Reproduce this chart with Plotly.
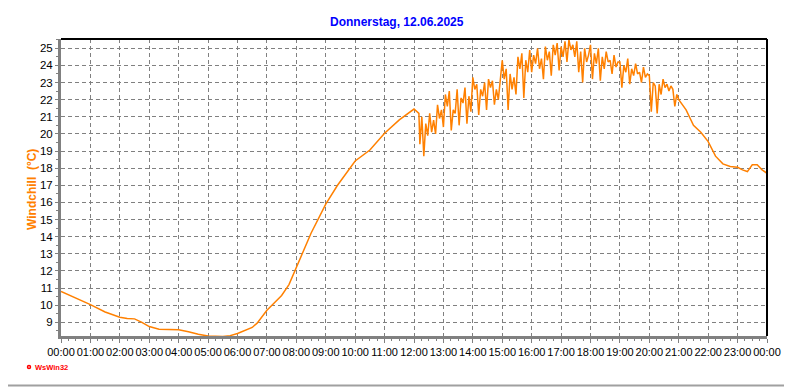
import pandas as pd
import plotly.graph_objects as go

# ---------------- data ----------------
day = "2025-06-12"
title_text = "Donnerstag, 12.06.2025"
y_title = "Windchill  (°C)"

# smooth part, night/morning
am_times = ["00:00", "00:30", "01:00", "01:30", "02:00", "02:15", "02:30", "02:45",
            "03:00", "03:20", "03:40", "04:00", "04:20", "04:40", "05:00", "05:30",
            "05:45", "06:00", "06:30", "06:40", "07:00", "07:30", "07:45", "08:00",
            "08:30", "09:00", "09:24", "10:00", "10:30", "11:00", "11:30", "12:00",
            "12:05", "12:10"]
am_vals = [10.8, 10.42, 10.03, 9.6, 9.3, 9.22, 9.2, 9.0,
           8.75, 8.6, 8.58, 8.57, 8.45, 8.3, 8.2, 8.17,
           8.22, 8.35, 8.7, 8.95, 9.7, 10.57, 11.2, 12.2,
           14.2, 15.9, 17.0, 18.42, 19.06, 20.04, 20.82, 21.45,
           21.3, 21.2]

# noisy afternoon part, 4-minute samples starting 12:12
noisy_start = "12:12"
noisy_vals = [
    # 12:12 - 12:56
    19.4, 21.0, 18.7, 20.6, 19.9, 21.2, 20.1, 20.8, 20.0, 21.7, 20.9, 21.4,
    # 13:00 - 13:56
    20.4, 22.3, 21.6, 22.5, 20.2, 21.4, 21.2, 22.6, 20.5, 22.1, 21.8, 22.7, 20.6, 22.2, 21.3,
    # 14:00 - 14:56
    23.3, 22.6, 22.9, 21.1, 22.6, 22.2, 23.0, 21.4, 23.2, 22.7, 23.1, 21.7, 22.6, 22.0, 23.0,
    # 15:00 - 15:56
    24.3, 23.2, 23.8, 21.4, 23.5, 22.6, 23.3, 22.3, 24.5, 23.8, 24.7, 22.1, 24.3, 23.6, 24.9,
    # 16:00 - 16:56
    23.6, 24.6, 24.1, 25.0, 23.8, 24.4, 23.2, 25.1, 24.3, 24.8, 23.4, 25.2, 24.6, 25.3, 23.7,
    # 17:00 - 17:56
    25.1, 24.5, 25.4, 24.2, 25.5, 24.9, 25.2, 24.5, 25.4, 23.6, 24.8, 23.0, 25.0, 24.2, 24.6,
    # 18:00 - 18:56
    25.2, 23.2, 24.7, 24.1, 25.0, 23.1, 24.5, 23.8, 24.8, 24.2, 24.3, 23.5, 24.6, 23.9, 24.2,
    # 19:00 - 19:56
    24.2, 22.7, 24.0, 23.6, 24.4, 22.9, 23.8, 23.4, 24.1, 23.5, 23.6, 23.0, 23.9, 23.3, 23.5,
    # 20:00 - 20:48
    23.4, 21.3, 23.0, 22.8, 21.2, 22.9, 22.3, 23.2, 22.7, 22.9, 22.5, 22.8, 22.6,
]

# smooth part, evening
pm_times = ["20:52", "20:56", "21:00", "21:15", "21:30", "21:45", "22:00", "22:15",
            "22:30", "22:45", "23:00", "23:10", "23:20", "23:30", "23:40", "23:50",
            "24:00"]
pm_vals = [21.6, 22.3, 22.0, 21.4, 20.5, 20.1, 19.55, 18.7,
           18.25, 18.1, 18.05, 17.9, 17.8, 18.2, 18.2, 17.9,
           17.7]

# ---------------- build ----------------
def to_ts(hm):
    h, m = map(int, hm.split(":"))
    return pd.Timestamp(day) + pd.Timedelta(hours=h, minutes=m)

x_am = [to_ts(t) for t in am_times]
x_noisy = list(pd.date_range(to_ts(noisy_start), periods=len(noisy_vals), freq="4min"))
x_pm = [to_ts(t) for t in pm_times]

xs = x_am + x_noisy + x_pm
ys = am_vals + noisy_vals + pm_vals

# pixel geometry (page coordinates; the page body has an 8px margin)
OFF = 8
PAGE_W, PAGE_H = 792, 387
W, H = PAGE_W - OFF, PAGE_H - OFF
L, R, T, B = 61 - OFF, 767 - OFF, 39 - OFF, 336 - OFF
def px(x):
    return (x - OFF - L) / (R - L)
def py(y):
    return (B - (y - OFF)) / (B - T)

orange = "#FF8000"
grid_col = "#808080"

fig = go.Figure()
fig.add_trace(go.Scatter(x=xs, y=ys, mode="lines",
                         line=dict(color=orange, width=1.5),
                         hoverinfo="skip", showlegend=False))

x0 = pd.Timestamp(day)
x1 = x0 + pd.Timedelta(hours=24)

fig.update_layout(
    width=W, height=H,
    margin=dict(l=L, r=W - R, t=T, b=H - B, pad=0, autoexpand=False),
    paper_bgcolor="white", plot_bgcolor="white",
    font=dict(family="Liberation Sans, Arial, sans-serif", size=11, color="black"),
    showlegend=False,
    xaxis=dict(
        range=[x0, x1], type="date", automargin=False,
        tickformat="%H:%M", dtick=3600000, tick0=x0, tickangle=0,
        showgrid=True, gridcolor=grid_col, griddash="4px,3px", gridwidth=1,
        showline=True, linecolor=grid_col, linewidth=3,
        ticks="outside", ticklen=4, tickcolor=grid_col, tickwidth=1,
        minor=dict(dtick=900000, ticks="outside", ticklen=2, tickcolor=grid_col, showgrid=False),
        zeroline=False, tickfont=dict(size=11),
    ),
    yaxis=dict(
        range=[8.2, 25.54], automargin=False,
        tickmode="linear", tick0=9, dtick=1,
        showgrid=True, gridcolor=grid_col, griddash="4px,3px", gridwidth=1,
        showline=True, linecolor=grid_col, linewidth=3,
        ticks="outside", ticklen=3, tickcolor=grid_col, tickwidth=1,
        minor=dict(dtick=0.5, ticks="outside", ticklen=2, tickcolor=grid_col, showgrid=False),
        zeroline=False, tickfont=dict(size=11.5),
    ),
)

shapes = [
    dict(type="line", xref="paper", yref="paper", x0=0, x1=1, y0=1, y1=1,
         line=dict(color="black", width=2)),
    dict(type="line", xref="paper", yref="paper", x0=1, x1=1, y0=0, y1=1,
         line=dict(color="black", width=2)),
    dict(type="line", xref="paper", yref="paper", x0=px(790), x1=px(790), y0=py(OFF), y1=py(386),
         line=dict(color="#A0A0A0", width=2)),
    dict(type="line", xref="paper", yref="paper", x0=px(OFF), x1=px(791), y0=py(385.5), y1=py(385.5),
         line=dict(color="#A0A0A0", width=2)),
    dict(type="circle", xref="paper", yref="paper", x0=px(27.5), x1=px(30.5), y0=py(368.5), y1=py(365.5),
         line=dict(color="red", width=1.5)),
]
fig.update_layout(shapes=shapes)

annotations = [
    dict(text="<b>" + title_text + "</b>", xref="paper", yref="paper",
         x=px(397), y=py(22), xanchor="center", yanchor="middle", showarrow=False,
         font=dict(color="#0000FF", size=12, family="Liberation Sans, Arial, sans-serif")),
    dict(text="<b>" + y_title + "</b>", xref="paper", yref="paper",
         x=px(32), y=py(189), xanchor="center", yanchor="middle", showarrow=False,
         textangle=-90,
         font=dict(color=orange, size=12, family="Liberation Sans, Arial, sans-serif")),
    dict(text="<b>WsWin32</b>", xref="paper", yref="paper",
         x=px(32.5), y=py(367), xanchor="left", yanchor="middle", showarrow=False,
         font=dict(color="red", size=7.5, family="Liberation Sans, Arial, sans-serif")),
]
fig.update_layout(annotations=annotations)

fig.write_html("out.html")
